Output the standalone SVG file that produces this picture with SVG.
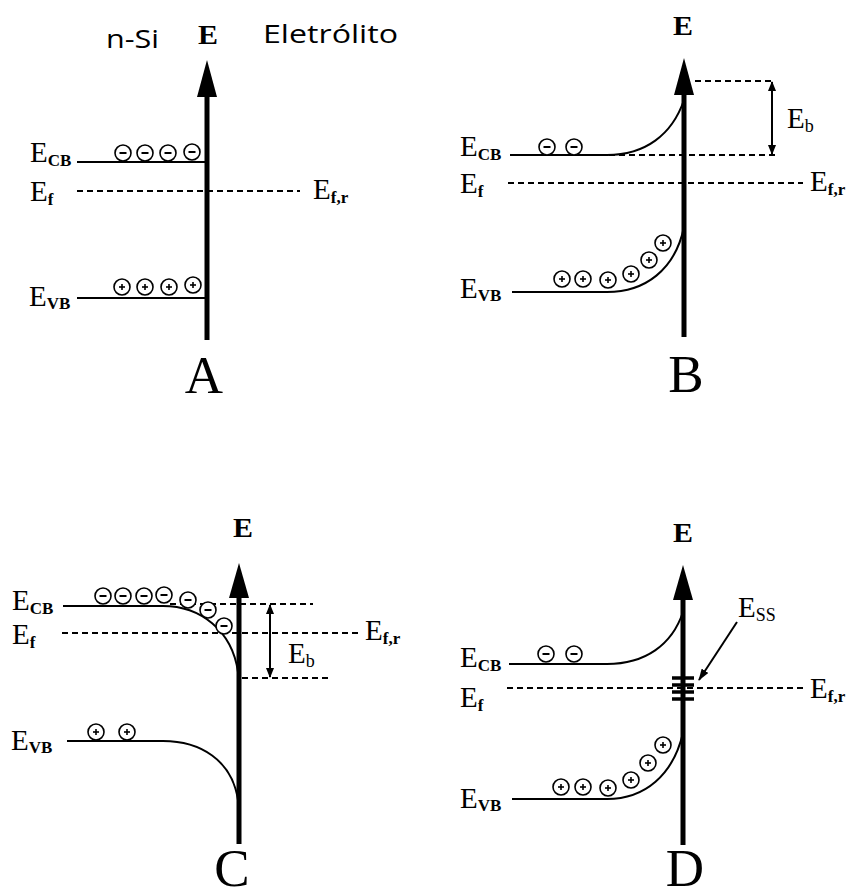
<svg xmlns="http://www.w3.org/2000/svg" xmlns:xlink="http://www.w3.org/1999/xlink" width="849" height="896" viewBox="0 0 849 896">
<style>
.ln{fill:none;stroke:#000;stroke-width:2}
.ds{fill:none;stroke:#000;stroke-width:2;stroke-dasharray:6 4}
.ax{fill:none;stroke:#000;stroke-width:5}
.lbl{font-family:"Liberation Serif","Times New Roman",serif;font-size:29px;fill:#000}
.sub{font-size:17px;font-weight:bold}
.subn{font-size:18px}
.ttl{font-family:"Liberation Serif","Times New Roman",serif;font-size:27px;font-weight:bold;fill:#000;text-anchor:middle}
.big{font-family:"Liberation Serif","Times New Roman",serif;font-size:53px;fill:#000;text-anchor:middle}
.sans{font-family:"Open Sans","Liberation Sans",Arial,sans-serif;font-size:26px;fill:#000}
</style>
<defs>
<g id="neg"><circle r="8" fill="#fff" stroke="#000" stroke-width="1.6"/><line x1="-3.5" y1="0" x2="3.5" y2="0" stroke="#000" stroke-width="2"/></g>
<g id="pos"><circle r="8" fill="#fff" stroke="#000" stroke-width="1.6"/><line x1="-3" y1="0" x2="3" y2="0" stroke="#000" stroke-width="1.6"/><line x1="0" y1="-3" x2="0" y2="3" stroke="#000" stroke-width="1.6"/></g>
<marker id="ah" viewBox="0 0 10 8" refX="9" refY="4" markerWidth="10" markerHeight="8" markerUnits="userSpaceOnUse" orient="auto-start-reverse"><path d="M0,0 L10,4 L0,8 z" fill="#000"/></marker>
<marker id="ah2" viewBox="0 0 12 8" refX="11" refY="4" markerWidth="12" markerHeight="8" markerUnits="userSpaceOnUse" orient="auto"><path d="M0,0 L12,4 L0,8 z" fill="#000"/></marker>
</defs>

<g id="panel-A">
<text class="sans" x="106" y="48" textLength="53" lengthAdjust="spacingAndGlyphs">n-Si</text>
<text class="ttl" x="208" y="44" textLength="20" lengthAdjust="spacingAndGlyphs">E</text>
<text class="sans" x="263" y="43" textLength="135" lengthAdjust="spacingAndGlyphs">Eletrólito</text>
<polygon points="207,60 197,97 217,97" fill="#000"/>
<line class="ax" x1="207" y1="92" x2="207" y2="340"/>
<line class="ln" x1="77" y1="162" x2="207" y2="162"/>
<line class="ds" x1="77" y1="191" x2="300" y2="191"/>
<line class="ln" x1="77" y1="298" x2="207" y2="298"/>
<use href="#neg" x="123" y="153"/><use href="#neg" x="145" y="153"/><use href="#neg" x="168" y="153"/><use href="#neg" x="192" y="152"/>
<use href="#pos" x="122" y="287"/><use href="#pos" x="145" y="287"/><use href="#pos" x="169" y="287"/><use href="#pos" x="193" y="285"/>
<text class="lbl" x="30" y="162">E<tspan class="sub" dy="4">CB</tspan></text>
<text class="lbl" x="30" y="201">E<tspan class="sub" dy="4">f</tspan></text>
<text class="lbl" x="313" y="199">E<tspan class="sub" dy="4">f,r</tspan></text>
<text class="lbl" x="29" y="306">E<tspan class="sub" dy="3">VB</tspan></text>
<text class="big" x="204" y="393">A</text>
</g>

<g id="panel-B">
<text class="ttl" x="683" y="35" textLength="20" lengthAdjust="spacingAndGlyphs">E</text>
<polygon points="684,58 674,95 694,95" fill="#000"/>
<line class="ax" x1="684" y1="90" x2="684" y2="337"/>
<path class="ln" d="M510,155 H607 C645,155 672,135 684,100"/>
<line class="ds" x1="609" y1="155" x2="778" y2="155"/>
<line class="ds" x1="695" y1="81" x2="773" y2="81"/>
<line class="ln" x1="772" y1="82" x2="772" y2="154" stroke-width="1.5" marker-start="url(#ah)" marker-end="url(#ah)"/>
<text class="lbl" x="787" y="128">E<tspan class="subn" dy="4">b</tspan></text>
<line class="ds" x1="508" y1="183" x2="803" y2="183"/>
<path class="ln" d="M512,292 H607 C645,292 675,270 684,227"/>
<use href="#neg" x="547" y="147"/><use href="#neg" x="574" y="147"/>
<use href="#pos" x="562" y="279"/><use href="#pos" x="583" y="279"/><use href="#pos" x="608" y="280"/><use href="#pos" x="631" y="274"/><use href="#pos" x="649" y="260"/><use href="#pos" x="663" y="243"/>
<text class="lbl" x="460" y="156">E<tspan class="sub" dy="4">CB</tspan></text>
<text class="lbl" x="460" y="193">E<tspan class="sub" dy="4">f</tspan></text>
<text class="lbl" x="810" y="191">E<tspan class="sub" dy="4">f,r</tspan></text>
<text class="lbl" x="460" y="298">E<tspan class="sub" dy="3">VB</tspan></text>
<text class="big" x="686" y="392">B</text>
</g>

<g id="panel-C">
<text class="ttl" x="243" y="537" textLength="20" lengthAdjust="spacingAndGlyphs">E</text>
<polygon points="239,563 229,598 249,598" fill="#000"/>
<line class="ax" x1="239" y1="593" x2="239" y2="844"/>
<path class="ln" d="M63,606 H163 C200,606 232,630 238,672"/>
<line class="ds" x1="170" y1="604" x2="313" y2="604"/>
<line class="ds" x1="242" y1="678" x2="328" y2="678"/>
<line class="ln" x1="270" y1="605" x2="270" y2="677" stroke-width="1.5" marker-start="url(#ah)" marker-end="url(#ah)"/>
<text class="lbl" x="288" y="663">E<tspan class="subn" dy="4">b</tspan></text>
<line class="ds" x1="62" y1="633" x2="358" y2="633"/>
<path class="ln" d="M67,741 H163 C200,741 232,760 238,800 V840"/>
<use href="#neg" x="103" y="596"/><use href="#neg" x="123" y="596"/><use href="#neg" x="144" y="596"/><use href="#neg" x="164" y="595"/><use href="#neg" x="188" y="600"/><use href="#neg" x="208" y="610"/><use href="#neg" x="224" y="626"/>
<use href="#pos" x="96" y="732"/><use href="#pos" x="127" y="732"/>
<text class="lbl" x="12" y="610">E<tspan class="sub" dy="4">CB</tspan></text>
<text class="lbl" x="12" y="644">E<tspan class="sub" dy="4">f</tspan></text>
<text class="lbl" x="365" y="640">E<tspan class="sub" dy="4">f,r</tspan></text>
<text class="lbl" x="11" y="750">E<tspan class="sub" dy="3">VB</tspan></text>
<text class="big" x="232" y="886" font-size="48">C</text>
</g>

<g id="panel-D">
<text class="ttl" x="683" y="542" textLength="20" lengthAdjust="spacingAndGlyphs">E</text>
<polygon points="683,565 673,600 693,600" fill="#000"/>
<line class="ax" x1="683" y1="595" x2="683" y2="845"/>
<path class="ln" d="M509,664 H607 C645,664 672,645 683,612"/>
<line class="ds" x1="507" y1="688" x2="803" y2="688"/>
<g stroke="#000" stroke-width="3.5">
<line x1="672" y1="678" x2="694" y2="678"/>
<line x1="672" y1="685" x2="694" y2="685"/>
<line x1="672" y1="692" x2="694" y2="692"/>
<line x1="672" y1="699" x2="694" y2="699"/>
</g>
<line class="ln" x1="737" y1="622" x2="699" y2="680" stroke-width="1.5" marker-end="url(#ah2)"/>
<text class="lbl" x="738" y="617">E<tspan class="subn" dy="4">SS</tspan></text>
<path class="ln" d="M512,799 H607 C645,799 673,775 683,733"/>
<use href="#neg" x="546" y="654"/><use href="#neg" x="574" y="654"/>
<use href="#pos" x="561" y="787"/><use href="#pos" x="583" y="787"/><use href="#pos" x="608" y="788"/><use href="#pos" x="631" y="780"/><use href="#pos" x="648" y="763"/><use href="#pos" x="663" y="745"/>
<text class="lbl" x="460" y="667">E<tspan class="sub" dy="4">CB</tspan></text>
<text class="lbl" x="460" y="707">E<tspan class="sub" dy="4">f</tspan></text>
<text class="lbl" x="810" y="698">E<tspan class="sub" dy="4">f,r</tspan></text>
<text class="lbl" x="460" y="808">E<tspan class="sub" dy="3">VB</tspan></text>
<text class="big" x="685" y="886" font-size="48">D</text>
</g>
</svg>
